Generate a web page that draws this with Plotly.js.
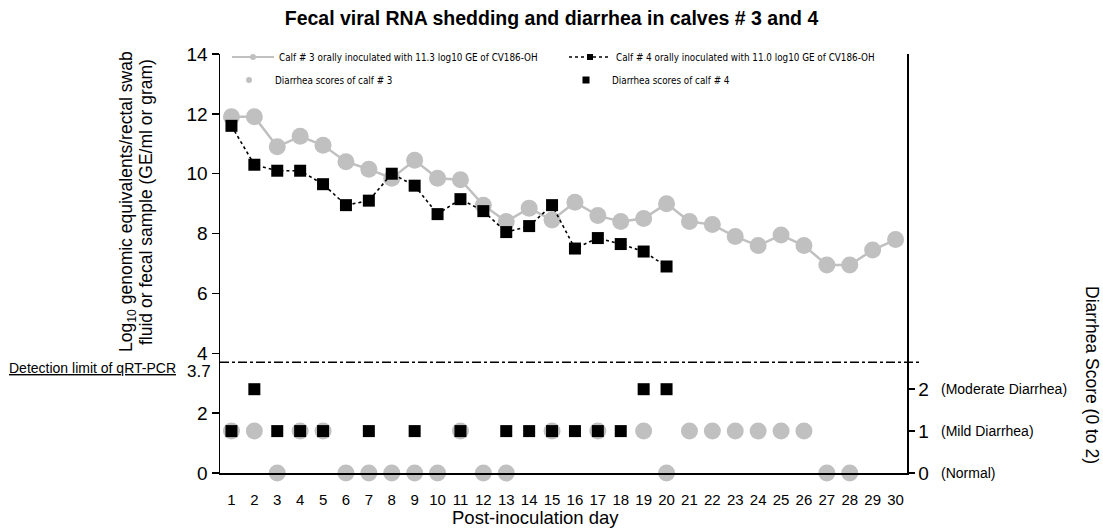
<!DOCTYPE html>
<html>
<head>
<meta charset="utf-8">
<script src="https://cdn.plot.ly/plotly-3.0.1.min.js"></script>
<style>html,body{margin:0;padding:0;background:#fff;}#chart{width:1103px;height:531px;}</style>
</head>
<body>
<div id="chart"></div>
<script>
// ---- data ----
const days = [1,2,3,4,5,6,7,8,9,10,11,12,13,14,15,16,17,18,19,20,21,22,23,24,25,26,27,28,29,30];
const calf3Viral = [11.9,11.9,10.9,11.25,10.95,10.4,10.15,9.85,10.45,9.85,9.8,8.95,8.4,8.85,8.45,9.05,8.6,8.4,8.5,9.0,8.4,8.3,7.9,7.6,7.95,7.6,6.95,6.95,7.45,7.8];
const calf4Viral = [11.6,10.3,10.1,10.1,9.65,8.95,9.1,10.0,9.6,8.65,9.15,8.75,8.05,8.25,8.95,7.5,7.85,7.65,7.4,6.9,null,null,null,null,null,null,null,null,null,null];
const calf3Score = [1,1,0,1,1,0,0,0,0,0,1,0,0,null,1,null,1,null,1,0,1,1,1,1,1,1,0,0,null,null];
const calf4Score = [1,2,1,1,1,null,1,null,1,null,1,null,1,1,1,1,1,1,2,2,null,null,null,null,null,null,null,null,null,null];
const detectionLimit = 3.7;
const leftTicks = [0,2,4,6,8,10,12,14];
const scoreTicks = [0,1,2,3,4,5,6,7,8,9,10];
const scoreLabelVals = [0,1,2];
const scoreTickLabels = ['0','1','2'];
const scoreDescriptions = ['(Normal)','(Mild Diarrhea)','(Moderate Diarrhea)'];
const seriesNames = [
  'Calf # 3 orally inoculated with 11.3 log10 GE of CV186-OH',
  'Calf # 4 orally inoculated with 11.0 log10 GE of CV186-OH',
  'Diarrhea scores of calf # 3',
  'Diarrhea scores of calf # 4'
];
const titleText = 'Fecal viral RNA shedding and diarrhea in calves # 3 and 4';
const xTitle = 'Post-inoculation day';
const yTitleLines = ['Log<sub>10</sub> genomic equivalents/rectal swab', 'fluid or fecal sample (GE/ml or gram)'];
const y2Title = 'Diarrhea Score (0 to 2)';
const detectionLabel = 'Detection limit of qRT-PCR';

// ---- style ----
const GRAY = '#c0c0c0';
const FONT = "'Liberation Sans', Arial, sans-serif";
const NARROW = "'Liberation Sans Narrow', 'Arial Narrow', 'DejaVu Sans Condensed', sans-serif";

const traces = [
  {x: days, y: calf3Viral, type: 'scatter', mode: 'lines+markers', name: seriesNames[0], showlegend: false,
   line: {color: GRAY, width: 2.5}, marker: {color: GRAY, size: 17, symbol: 'circle'}, xaxis: 'x', yaxis: 'y'},
  {x: days, y: calf4Viral, type: 'scatter', mode: 'lines+markers', name: seriesNames[1], showlegend: false,
   line: {color: '#000', width: 1.6, dash: 'dot'}, marker: {color: '#000', size: 12, symbol: 'square'}, xaxis: 'x', yaxis: 'y'},
  {x: days, y: calf3Score, type: 'scatter', mode: 'markers', name: seriesNames[2], showlegend: false,
   marker: {color: GRAY, size: 17, symbol: 'circle'}, xaxis: 'x', yaxis: 'y2', cliponaxis: false},
  {x: days, y: calf4Score, type: 'scatter', mode: 'markers', name: seriesNames[3], showlegend: false,
   marker: {color: '#000', size: 12, symbol: 'square'}, xaxis: 'x', yaxis: 'y2', cliponaxis: false},
  // legend entries (small symbols, as in the reference legend)
  {x: [null], y: [null], type: 'scatter', mode: 'lines+markers', name: seriesNames[0], legend: 'legend',
   line: {color: GRAY, width: 2}, marker: {color: GRAY, size: 6}, xaxis: 'x', yaxis: 'y', hoverinfo: 'skip'},
  {x: [null], y: [null], type: 'scatter', mode: 'lines+markers', name: seriesNames[1], legend: 'legend',
   line: {color: '#000', width: 1.5, dash: 'dot'}, marker: {color: '#000', size: 6, symbol: 'square'}, xaxis: 'x', yaxis: 'y', hoverinfo: 'skip'},
  {x: [null], y: [null], type: 'scatter', mode: 'markers', name: seriesNames[2], legend: 'legend2',
   marker: {color: GRAY, size: 6}, xaxis: 'x', yaxis: 'y', hoverinfo: 'skip'},
  {x: [null], y: [null], type: 'scatter', mode: 'markers', name: seriesNames[3], legend: 'legend2',
   marker: {color: '#000', size: 7, symbol: 'square'}, xaxis: 'x', yaxis: 'y', hoverinfo: 'skip'}
];

const boundaries = days.slice(1).map(d => d - 0.5);
const xr = [0.5, 30.5];
const axisBase = {showgrid: false, zeroline: false, linecolor: '#000', linewidth: 1.5, tickcolor: '#000', tickwidth: 1.5};

const W = 687, H = 419, L = 220, B = 473;
const px = v => (v - L) / W;          // pixel -> paper x
const py = v => (B - v) / H;          // pixel -> paper y

const legendCommon = {orientation: 'h', xanchor: 'left', yanchor: 'middle', entrywidth: 280, entrywidthmode: 'pixels',
  itemwidth: 42, font: {family: NARROW, size: 9.8, color: '#000'}, bgcolor: 'rgba(0,0,0,0)', borderwidth: 0,
  itemclick: false, itemdoubleclick: false};

const layout = {
  width: 1103, height: 531,
  margin: {l: L, r: 1103 - L - W, t: 54, b: 531 - B},
  paper_bgcolor: '#fff', plot_bgcolor: '#fff',
  font: {family: FONT, size: 17, color: '#000'},
  title: {text: '<b>' + titleText + '</b>', x: 0.5, xref: 'container', xanchor: 'center', y: 1 - 18/531, yref: 'container', yanchor: 'middle',
          font: {family: FONT, size: 19.5, color: '#000'}},
  showlegend: true,
  legend: Object.assign({}, legendCommon, {x: px(227), y: py(57)}),
  legend2: Object.assign({}, legendCommon, {x: px(223), y: py(80)}),
  xaxis: Object.assign({}, axisBase, {range: xr, tickmode: 'array', tickvals: days, ticktext: days.map(String), ticks: '',
          showline: true, ticklabelstandoff: 12, tickfont: {size: 15}, fixedrange: true}),
  xaxis2: Object.assign({}, axisBase, {range: xr, overlaying: 'x', anchor: 'y', side: 'bottom', tickmode: 'array', tickvals: boundaries,
          ticks: 'outside', ticklen: 5, showticklabels: false, showline: false}),
  xaxis3: Object.assign({}, axisBase, {range: xr, overlaying: 'x', anchor: 'y', side: 'bottom', tickmode: 'array', tickvals: boundaries,
          ticks: 'inside', ticklen: 5, showticklabels: false, showline: false}),
  yaxis: Object.assign({}, axisBase, {range: [0, 14], tickmode: 'array', tickvals: leftTicks, ticks: 'outside', ticklen: 7,
          showline: true, tickfont: {size: 19}, fixedrange: true}),
  yaxis3: Object.assign({}, axisBase, {range: [0, 14], overlaying: 'y', anchor: 'x', side: 'left', tickmode: 'array', tickvals: leftTicks,
          ticks: 'inside', ticklen: 5, showticklabels: false, showline: false}),
  yaxis2: Object.assign({}, axisBase, {range: [0, 10], overlaying: 'y', anchor: 'x', side: 'right', tickmode: 'array', tickvals: scoreLabelVals,
          ticktext: scoreTickLabels, ticks: 'outside', ticklen: 6, showline: true, tickfont: {size: 19}}),
  yaxis4: Object.assign({}, axisBase, {range: [0, 10], overlaying: 'y', anchor: 'x', side: 'right', tickmode: 'array', tickvals: scoreTicks,
          ticks: 'inside', ticklen: 8, showticklabels: false, showline: false}),
  yaxis5: Object.assign({}, axisBase, {range: [0, 10], overlaying: 'y', anchor: 'x', side: 'right', tickmode: 'array', tickvals: scoreTicks,
          ticks: 'outside', ticklen: 6, showticklabels: false, showline: false}),
  shapes: [
    {type: 'line', xref: 'paper', yref: 'y', x0: 0, x1: px(922), y0: detectionLimit, y1: detectionLimit,
     line: {color: '#000', width: 1.5, dash: 'dashdot'}}
  ],
  annotations: [
    {text: yTitleLines[0], xref: 'paper', yref: 'paper', x: px(127), y: py(202), textangle: -90, showarrow: false,
     xanchor: 'center', yanchor: 'middle', font: {size: 17.5}},
    {text: yTitleLines[1], xref: 'paper', yref: 'paper', x: px(146), y: py(202), textangle: -90, showarrow: false,
     xanchor: 'center', yanchor: 'middle', font: {size: 17.5}},
    {text: y2Title, xref: 'paper', yref: 'paper', x: px(1092), y: py(375), textangle: 90, showarrow: false,
     xanchor: 'center', yanchor: 'middle', font: {size: 17.5}},
    {text: xTitle, xref: 'paper', yref: 'paper', x: px(535), y: py(517), showarrow: false,
     xanchor: 'center', yanchor: 'middle', font: {size: 18.5}},
    {text: '<span style="text-decoration:underline">' + detectionLabel + '</span>', xref: 'paper', yref: 'y', x: px(178), y: detectionLimit,
     yshift: -6, showarrow: false, xanchor: 'right', yanchor: 'middle', font: {size: 14}},
    {text: String(detectionLimit), xref: 'paper', yref: 'y', x: px(213), y: detectionLimit, yshift: -9, showarrow: false,
     xanchor: 'right', yanchor: 'middle', font: {size: 17}}
  ].concat(scoreDescriptions.map((t, i) => ({
    text: t, xref: 'paper', yref: 'y2', x: px(939), y: i, showarrow: false, xanchor: 'left', yanchor: 'middle', font: {size: 14}
  })))
};

Plotly.newPlot('chart', traces, layout, {displayModeBar: false, staticPlot: true});
</script>
</body>
</html>
